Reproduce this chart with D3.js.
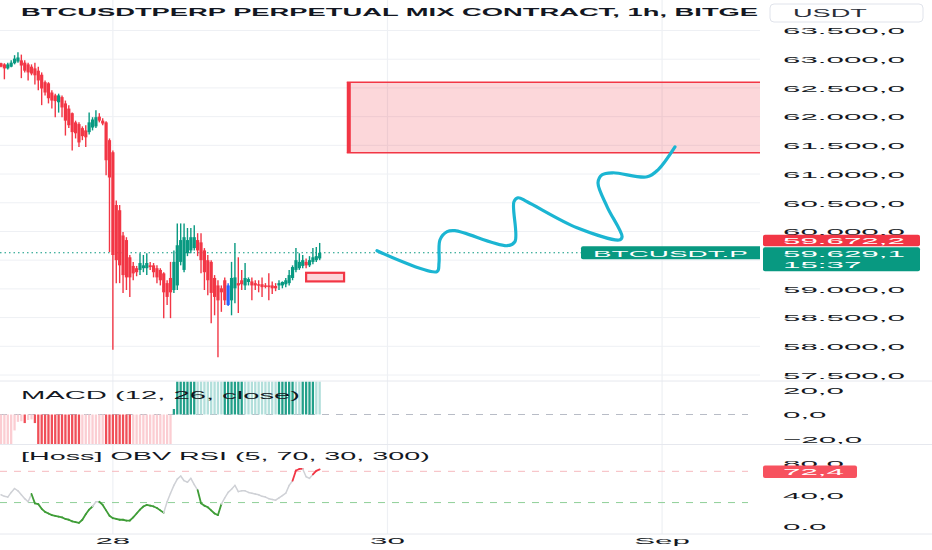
<!DOCTYPE html>
<html><head><meta charset="utf-8">
<script src="https://cdn.jsdelivr.net/npm/d3@7"></script>
<style>body{margin:0;background:#fff}svg{display:block}</style>
</head><body>
<svg id="c" width="932" height="550"></svg>
<script>
// ---------------- DATA ----------------
const titleText = "BTCUSDTPERP PERPETUAL MIX CONTRACT, 1h, BITGET";
const quoteUnit = "USDT";
const symbolLabel = "BTCUSDT.P";
const macdLegend = "MACD (12, 26, close)";
const rsiLegend = "[Hoss] OBV RSI (5, 70, 30, 300)";
// candles: [open, high, low, close] per 1h bar
const candles = [
[62930,62940,62860,62870],[62910,62930,62650,62840],[62840,62940,62820,62910],[62870,62980,62860,62940],
[62930,63070,62910,63010],[62960,63120,62940,63030],[62980,63080,62670,62890],[62940,62980,62770,62800],
[62910,62940,62630,62770],[62870,62910,62720,62750],[62840,62940,62560,62720],[62800,62870,62460,62630],
[62730,62770,62200,62490],[62600,62630,62370,62420],[62580,62600,62230,62320],[62420,62460,62140,62280],
[62370,62400,61990,62270],[62250,62400,62070,62370],[62340,62370,61990,62160],[62230,62280,61670,61930],
[62140,62200,61800,61850],[62060,62070,61410,61730],[61900,61930,61620,61710],[61870,61900,61470,61550],
[61800,61830,61590,61660],[61760,61850,61470,61640],[61730,62070,61690,61900],[61810,61990,61760,61950],
[61830,62110,61800,61990],[62000,62060,61900,61930],[61930,61970,61850,61880],[61900,61920,60980,61240],
[61590,61620,59640,60940],[61380,61410,57940,59590],[60460,60540,59100,59500],[60370,60460,59100,59410],
[59930,59990,58930,59240],[59850,59900,58980,59200],[59550,59590,58860,59200],[59400,59470,59150,59270],
[59360,59400,59220,59290],[59330,59620,59240,59450],[59360,59590,59290,59410],[59360,59620,59240,59450],
[59410,59470,59330,59380],[59410,59450,59200,59290],[59360,59410,59100,59200],[59330,59360,59060,59150],
[59270,59290,58490,58940],[59100,59150,58720,58860],[59190,59470,58490,58940],[58980,59670,58930,59470],
[59060,60140,58980,59760],[59470,60140,59410,59850],[59330,60140,59290,59900],[59620,60060,59570,59850],
[59670,60060,59620,59900],[59710,60110,59670,59900],[59850,59970,59570,59670],[59810,59970,59270,59500],
[59670,59710,58980,59290],[59500,59590,58890,59150],[59470,59500,58400,58930],[59190,59240,58540,58860],
[59060,59150,57810,58800],[59010,59060,58600,58940],[59150,59200,58720,58800],[58720,59100,58700,59060],
[58800,59470,58540,59190],[59010,59800,58750,59200],[59100,59550,58580,59060],[59150,59330,58980,59080],
[59060,59450,58980,59190],[59120,59200,59060,59170],[59130,59200,58800,59060],[59100,59150,58980,59060],
[59080,59150,58940,59060],[59080,59200,58860,59030],[59060,59100,59010,59050],[59060,59270,58800,59030],
[59060,59130,58910,59010],[59050,59100,58960,59010],[59060,59150,58980,59100],[59060,59130,59010,59120],
[59080,59190,59030,59150],[59100,59330,59060,59240],[59190,59410,59150,59380],[59330,59710,59290,59500],
[59360,59620,59330,59470],[59400,59590,59360,59500],[59470,59530,59360,59410],[59410,59570,59380,59500],
[59470,59710,59430,59550],[59500,59730,59470,59570],[59530,59800,59500,59629.1]
];
const highlightBars = [67];           // bar drawn in blue
const lastPrice = 59629.1;
const otherPrice = 59672.2;
const countdown = "15:37";
const macdHist = [
-60,-55,-50,-46,-13,-6,-5.5,-7,-4.5,-4,-7,-30,-38,-45,-52,-58,-64,-69,-75,-82,-88,-95,-100,-104,
-102,-99,-95,-90,-85,-80,-78,-90,-110,-140,-165,-185,-200,-210,-215,-205,-190,-175,-160,-145,-130,
-115,-100,-85,-70,-55,-40,4.5,30,40,50,60,70,80,75,70,65,60,55,50,45,40,45,50,55,60,65,70,66,62,58,
54,50,46,42,38,34,31,35,40,45,50,55,52,49,53,57,61,65,62,59
];
const obvRsi = [
40,38,37,43,48,45,40,35,31,41,29,28,22,18,16,14,13,12,11,9,8,6,5,4,8,15,21,25,31,31,27,20,13,10,9,8,8,7,7,
11,16,21,25,27,26,25,23,20,17,31,42,52,60,64,58,56,61,53,46,29,26,24,20,16,14,28,36,43,47,52,44,45,45,43,
42,41,40,38,37,35,34,33,36,39,42,52,58,71,73,73,63,61,66,70.5,72.4
];
const rsiUpper = 70, rsiLower = 30;
// supply zone and small box: [startBar, endBar, lowPrice, highPrice]
const zone = [102, 224, 61370, 62600];
const smallBox = [90, 101.2, 59130, 59280];
// hand-drawn projection path: bar index and price
const waveBar =   [110.9,128.6,129.2,129.5,131.6,133.9,149.3,151.6,151.3,152.5,155.2,169.9,182.6,183.2,178.8,176.1,177.3,180.5,190.6,193.8,198.8];
const wavePrice = [59665,59300,59456,59856,59996,60013,59752,59822,60517,60587,60517,60065,59856,59909,60430,60848,60987,61022,60952,61074,61474];
const priceTicks = d3.range(57500, 63501, 500);
const macdTicks = [20, 0, -20];
const rsiTicks = [80, 40, 0];
const rsiTickLabels = ["80,0", "40,0", "0.0"];
const timeTickBars = [33, 114, 195];
const timeTickLabels = ["28", "30", "Sep"];

// ---------------- DRAW ----------------
const svg = d3.select('#c');
const FONT = "'Liberation Sans', Arial, sans-serif";
const RED = '#f23645', GREEN = '#089981';
const CR = 760; // chart right edge
const x = d3.scaleLinear().domain([0, 224]).range([1, 760.4]);
const y = d3.scaleLinear().domain([57500, 63500]).range([375, 30.5]);
const yM = d3.scaleLinear().domain([-20, 20]).range([439, 390]);
const yR = d3.scaleLinear().domain([0, 80]).range([526, 463.5]);
const loc = d3.formatLocale({decimal: ",", thousands: ".", grouping: [3], currency: ["", ""], minus: "\u2212"});
const fmt = loc.format(",.1f");

const meas = svg.append('g').attr('opacity', 0);
function natW(str, size, weight) {
  const t = meas.append('text').attr('font-family', FONT).attr('font-size', size)
    .attr('font-weight', weight || 'normal').text(str);
  const w = t.node().getComputedTextLength(); t.remove(); return w;
}
function txt(g, str, x0, y0, o) {
  return g.append('text').attr('transform', `translate(${x0},${y0}) scale(${o.k},1)`)
    .attr('font-family', FONT).attr('font-size', o.size).attr('font-weight', o.weight || 'normal')
    .attr('fill', o.fill || '#131722').attr('text-anchor', o.anchor || 'start')
    .attr('dominant-baseline', 'central').text(str);
}
const AX = 9.5;
const kAxis = 122 / natW('63.500,0', AX);

// grid
const grid = svg.append('g');
grid.selectAll('line.h').data(priceTicks).join('line')
  .attr('x1', 0).attr('x2', CR).attr('y1', d => y(d)).attr('y2', d => y(d))
  .attr('stroke', '#eef0f4').attr('stroke-width', 1);
grid.selectAll('line.v').data(timeTickBars).join('line')
  .attr('x1', d => x(d)).attr('x2', d => x(d)).attr('y1', 0).attr('y2', 534)
  .attr('stroke', '#eef0f4').attr('stroke-width', 1.2);

// zone
const zg = svg.append('g');
zg.append('rect').attr('x', x(zone[0])).attr('y', y(zone[3]))
  .attr('width', CR - x(zone[0])).attr('height', y(zone[2]) - y(zone[3]))
  .attr('fill', 'rgba(242,54,69,0.2)');
[zone[3], zone[2]].forEach(p => zg.append('line').attr('x1', x(zone[0])).attr('x2', CR)
  .attr('y1', y(p)).attr('y2', y(p)).attr('stroke', RED).attr('stroke-width', 1.4));
zg.append('rect').attr('x', x(zone[0])).attr('y', y(zone[3])).attr('width', 4)
  .attr('height', y(zone[2]) - y(zone[3])).attr('fill', RED);

// last price dotted line
svg.append('line').attr('x1', 0).attr('x2', CR).attr('y1', y(lastPrice)).attr('y2', y(lastPrice))
  .attr('stroke', GREEN).attr('stroke-width', 1).attr('stroke-dasharray', '1.5,3');

// candles
const cg = svg.append('g');
const colorOf = (d, i) => highlightBars.includes(i) ? '#2962ff' : (d[3] >= d[0] ? GREEN : RED);
cg.selectAll('line').data(candles).join('line')
  .attr('x1', (d, i) => x(i)).attr('x2', (d, i) => x(i))
  .attr('y1', d => y(d[1])).attr('y2', d => y(d[2]))
  .attr('stroke', colorOf).attr('stroke-width', 1.4);
cg.selectAll('rect').data(candles).join('rect')
  .attr('x', (d, i) => x(i) - 1.6).attr('width', 3.2)
  .attr('y', d => y(Math.max(d[0], d[3])))
  .attr('height', d => Math.max(1.4, Math.abs(y(d[0]) - y(d[3]))))
  .attr('fill', colorOf);

// small box
svg.append('rect').attr('x', x(smallBox[0])).attr('y', y(smallBox[3]))
  .attr('width', x(smallBox[1]) - x(smallBox[0])).attr('height', y(smallBox[2]) - y(smallBox[3]))
  .attr('fill', '#fdd5d9').attr('stroke', RED).attr('stroke-width', 2.2);

// wave
const wave = waveBar.map((b, i) => [b, wavePrice[i]]);
svg.append('path').datum(wave)
  .attr('d', d3.line().x(d => x(d[0])).y(d => y(d[1])).curve(d3.curveCatmullRom.alpha(0.5)))
  .attr('fill', 'none').attr('stroke', '#1bb5d2').attr('stroke-width', 3.2)
  .attr('stroke-linecap', 'round').attr('stroke-linejoin', 'round');

// symbol label on chart
const lp = y(lastPrice);
svg.append('path').attr('d', `M${CR},${lp - 6.5} H583 q-2,0 -2,2 V${lp + 4.5} q0,2 2,2 H${CR} Z`).attr('fill', GREEN);
const kSym = 155 / natW(symbolLabel, AX);
txt(svg, symbolLabel, 593, lp + 0.5, {k: kSym, size: AX, fill: '#fff'});

// MACD pane
svg.append('clipPath').attr('id', 'mclip').append('rect').attr('x', 0).attr('y', 381.5).attr('width', CR).attr('height', 62.5);
const mg = svg.append('g').attr('clip-path', 'url(#mclip)');
mg.append('line').attr('x1', 0).attr('x2', 748).attr('y1', yM(0)).attr('y2', yM(0))
  .attr('stroke', '#b8bcc6').attr('stroke-width', 1).attr('stroke-dasharray', '7,7');
const histColor = (v, i) => {
  const prev = i > 0 ? macdHist[i - 1] : v - 1;
  if (v >= 0) return v >= prev ? '#22a08a' : '#b2dfdb';
  return v < prev ? '#f04f58' : '#fbcdd2';
};
mg.selectAll('rect').data(macdHist).join('rect')
  .attr('x', (d, i) => x(i) - 1.15).attr('width', 2.3)
  .attr('y', d => Math.min(yM(0), yM(d))).attr('height', d => Math.abs(yM(d) - yM(0)))
  .attr('fill', histColor);

// RSI pane
svg.append('line').attr('x1', 0).attr('x2', 748).attr('y1', yR(rsiUpper)).attr('y2', yR(rsiUpper))
  .attr('stroke', '#f6b9bf').attr('stroke-width', 1).attr('stroke-dasharray', '7,7');
svg.append('line').attr('x1', 0).attr('x2', 748).attr('y1', yR(rsiLower)).attr('y2', yR(rsiLower))
  .attr('stroke', '#8fcf98').attr('stroke-width', 1).attr('stroke-dasharray', '7,7');
const segs = obvRsi.slice(1).map((v, j) => ({a: obvRsi[j], b: v, i: j + 1}));
svg.append('g').selectAll('line').data(segs).join('line')
  .attr('x1', d => x(d.i - 1)).attr('x2', d => x(d.i))
  .attr('y1', d => yR(d.a)).attr('y2', d => yR(d.b))
  .attr('stroke', d => d.b > rsiUpper ? RED : (d.b < rsiLower ? '#3f9d37' : '#cfd1d6'))
  .attr('stroke-width', d => (d.b > rsiUpper || d.b < rsiLower) ? 1.8 : 1.5)
  .attr('stroke-linecap', 'round');

// legends
const LG = 11.6;
txt(svg, macdLegend, 21, 395, {k: 279 / natW(macdLegend, LG), size: LG});
txt(svg, rsiLegend, 21, 456.5, {k: 409 / natW(rsiLegend, LG), size: LG});

// title (clipped at price scale)
svg.append('clipPath').attr('id', 'tclip').append('rect').attr('x', 0).attr('y', 0).attr('width', 758).attr('height', 30);
const tg = svg.append('g').attr('clip-path', 'url(#tclip)');
const TS = 10.8;
txt(tg, titleText, 21, 12.3, {k: 754 / natW(titleText, TS, 'bold'), size: TS, weight: 'bold'});

// price scale
const ax = svg.append('g');
ax.append('rect').attr('x', CR).attr('y', 0).attr('width', 932 - CR).attr('height', 550).attr('fill', '#fff');
// pane separators
[381, 444.5, 534].forEach(v => svg.append('line').attr('x1', 0).attr('x2', 932).attr('y1', v).attr('y2', v)
  .attr('stroke', '#e6e8ee').attr('stroke-width', 1));
priceTicks.forEach(t => txt(ax, fmt(t), 783, y(t) + 0.5, {k: kAxis, size: AX}));
macdTicks.forEach(t => txt(ax, fmt(t), 783, yM(t) + 0.5, {k: kAxis, size: AX}));
rsiTicks.forEach((t, i) => txt(ax, rsiTickLabels[i], 783, yR(t) + 0.5, {k: kAxis, size: AX}));

// USDT box
ax.append('rect').attr('x', 770).attr('y', 4).attr('width', 153).attr('height', 18).attr('rx', 4)
  .attr('fill', '#fff').attr('stroke', '#e0e3eb');
txt(ax, quoteUnit, 793, 13.2, {k: 74 / natW(quoteUnit, 10), size: 10, fill: '#2a2e39'});

// price labels
const gTop = lp - 5.5;
ax.append('rect').attr('x', 763).attr('y', gTop).attr('width', 157).attr('height', 24).attr('rx', 2).attr('fill', GREEN);
txt(ax, fmt(lastPrice), 783, lp + 0.6, {k: kAxis, size: AX, fill: '#fff'});
txt(ax, countdown, 783, lp + 12.2, {k: kAxis, size: AX, fill: '#fff'});
const rBottom = gTop - 1;
ax.append('rect').attr('x', 763).attr('y', rBottom - 11.5).attr('width', 157).attr('height', 11.5).attr('rx', 2).attr('fill', RED);
txt(ax, fmt(otherPrice), 783, rBottom - 5.7, {k: kAxis, size: AX, fill: '#fff'});
const rv = obvRsi[obvRsi.length - 1];
ax.append('rect').attr('x', 763).attr('y', yR(rv) - 4).attr('width', 94).attr('height', 12.5).attr('rx', 2).attr('fill', '#f7525f');
txt(ax, fmt(rv), 783, yR(rv) + 2.3, {k: kAxis, size: AX, fill: '#fff'});

// time axis
timeTickBars.forEach((b, i) => txt(svg, timeTickLabels[i], x(b), 540.5, {k: kAxis, size: AX, anchor: 'middle'}));
</script>
</body></html>
